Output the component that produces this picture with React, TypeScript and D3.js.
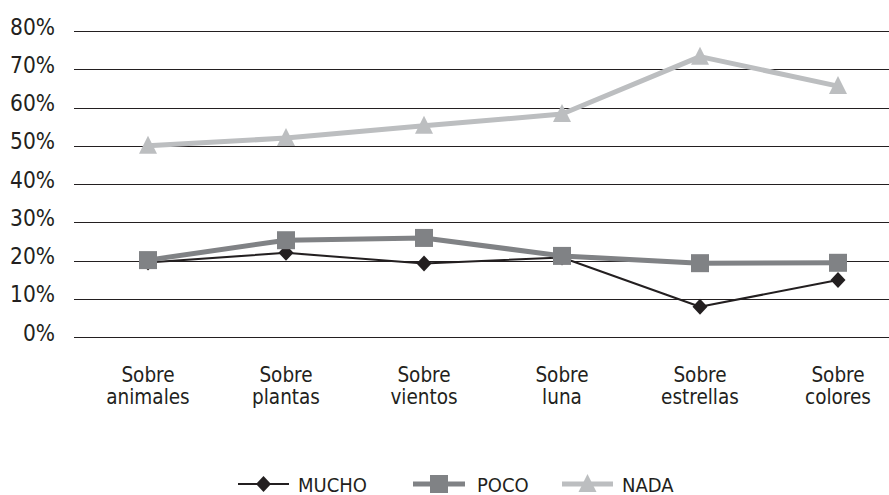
import React, { useEffect, useRef } from "react";
import * as d3 from "d3";

const categories = [
  ["Sobre", "animales"],
  ["Sobre", "plantas"],
  ["Sobre", "vientos"],
  ["Sobre", "luna"],
  ["Sobre", "estrellas"],
  ["Sobre", "colores"],
];
const mucho = [19.5, 22, 19.2, 20.8, 7.9, 14.9];
const poco = [20.1, 25.3, 25.9, 21.2, 19.3, 19.4];
const nada = [50, 52, 55.2, 58.3, 73.3, 65.6];
const yTicks = [0, 10, 20, 30, 40, 50, 60, 70, 80];

const FONT = "'DejaVu Sans Condensed', 'DejaVu Sans', sans-serif";

const App: React.FC = () => {
  const svgRef = useRef<SVGSVGElement | null>(null);

  useEffect(() => {
    if (!svgRef.current) return;
    const width = 889;
    const height = 495;
    const svg = d3.select(svgRef.current);
    svg.selectAll("*").remove();
    svg.attr("width", width).attr("height", height);

    const x = d3
      .scaleBand<number>()
      .domain(categories.map((_, i) => i))
      .range([79, 907]);
    const cx = (i: number) => x(i)! + x.bandwidth() / 2;
    const y = d3.scaleLinear().domain([0, 80]).range([337, 31]);

    // grid
    svg
      .append("g")
      .selectAll("line")
      .data(yTicks)
      .enter()
      .append("line")
      .attr("x1", 74)
      .attr("x2", width)
      .attr("y1", (d) => Math.round(y(d)) + 0.5)
      .attr("y2", (d) => Math.round(y(d)) + 0.5)
      .attr("stroke", "#231f20")
      .attr("stroke-width", 1);

    svg
      .append("g")
      .selectAll("text")
      .data(yTicks)
      .enter()
      .append("text")
      .attr("x", 55)
      .attr("y", (d) => y(d) + 3.5)
      .attr("text-anchor", "end")
      .attr("font-family", FONT)
      .attr("font-size", 22.5)
      .attr("fill", "#231f20")
      .text((d) => `${d}%`);

    // categories
    const cat = svg
      .append("g")
      .selectAll("text")
      .data(categories)
      .enter()
      .append("text")
      .attr("text-anchor", "middle")
      .attr("font-family", FONT)
      .attr("font-size", 20.5)
      .attr("fill", "#231f20");
    cat
      .selectAll("tspan")
      .data((d, i) => d.map((t) => ({ t, i })))
      .enter()
      .append("tspan")
      .attr("x", (d) => cx(d.i))
      .attr("y", (_, j) => 382 + j * 22)
      .text((d) => d.t);

    const line = d3
      .line<number>()
      .x((_, i) => cx(i))
      .y((d) => y(d));

    const series = [
      { name: "MUCHO", values: mucho, color: "#231f20", w: 2, marker: "diamond" },
      { name: "POCO", values: poco, color: "#808285", w: 5, marker: "square" },
      { name: "NADA", values: nada, color: "#bcbec0", w: 5, marker: "triangle" },
    ];

    const drawMarker = (
      g: d3.Selection<SVGGElement, unknown, null, undefined>,
      type: string,
      px: number,
      py: number,
      color: string
    ) => {
      if (type === "diamond") {
        g.append("path")
          .attr("d", `M${px},${py - 8}L${px + 7.5},${py}L${px},${py + 8}L${px - 7.5},${py}Z`)
          .attr("fill", color);
      } else if (type === "square") {
        g.append("rect")
          .attr("x", px - 9)
          .attr("y", py - 9)
          .attr("width", 18)
          .attr("height", 18)
          .attr("fill", color);
      } else {
        g.append("path")
          .attr("d", `M${px},${py - 10}L${px + 9},${py + 8}L${px - 9},${py + 8}Z`)
          .attr("fill", color);
      }
    };

    // NADA first, then MUCHO, POCO on top
    const order = [2, 0, 1];
    order.forEach((k) => {
      const s = series[k];
      const g = svg.append("g");
      g.append("path")
        .attr("d", line(s.values)!)
        .attr("fill", "none")
        .attr("stroke", s.color)
        .attr("stroke-width", s.w)
        .attr("stroke-linejoin", "round");
      s.values.forEach((v, i) => drawMarker(g, s.marker, cx(i), y(v), s.color));
    });

    // legend
    const legend = [
      { s: series[0], x0: 238, x1: 289, tx: 298 },
      { s: series[1], x0: 413, x1: 465, tx: 477 },
      { s: series[2], x0: 562, x1: 613, tx: 622 },
    ];
    legend.forEach((l) => {
      const g = svg.append("g");
      const ly = 484;
      g.append("line")
        .attr("x1", l.x0)
        .attr("x2", l.x1)
        .attr("y1", ly)
        .attr("y2", ly)
        .attr("stroke", l.s.color)
        .attr("stroke-width", l.s.w);
      drawMarker(g, l.s.marker, (l.x0 + l.x1) / 2, ly, l.s.color);
      g.append("text")
        .attr("x", l.tx)
        .attr("y", ly + 7.5)
        .attr("font-family", FONT)
        .attr("font-size", 20)
        .attr("fill", "#231f20")
        .text(l.s.name);
    });
  }, []);

  return <svg ref={svgRef} style={{ position: "absolute", left: 0, top: 0 }}></svg>;
};

export default App;
